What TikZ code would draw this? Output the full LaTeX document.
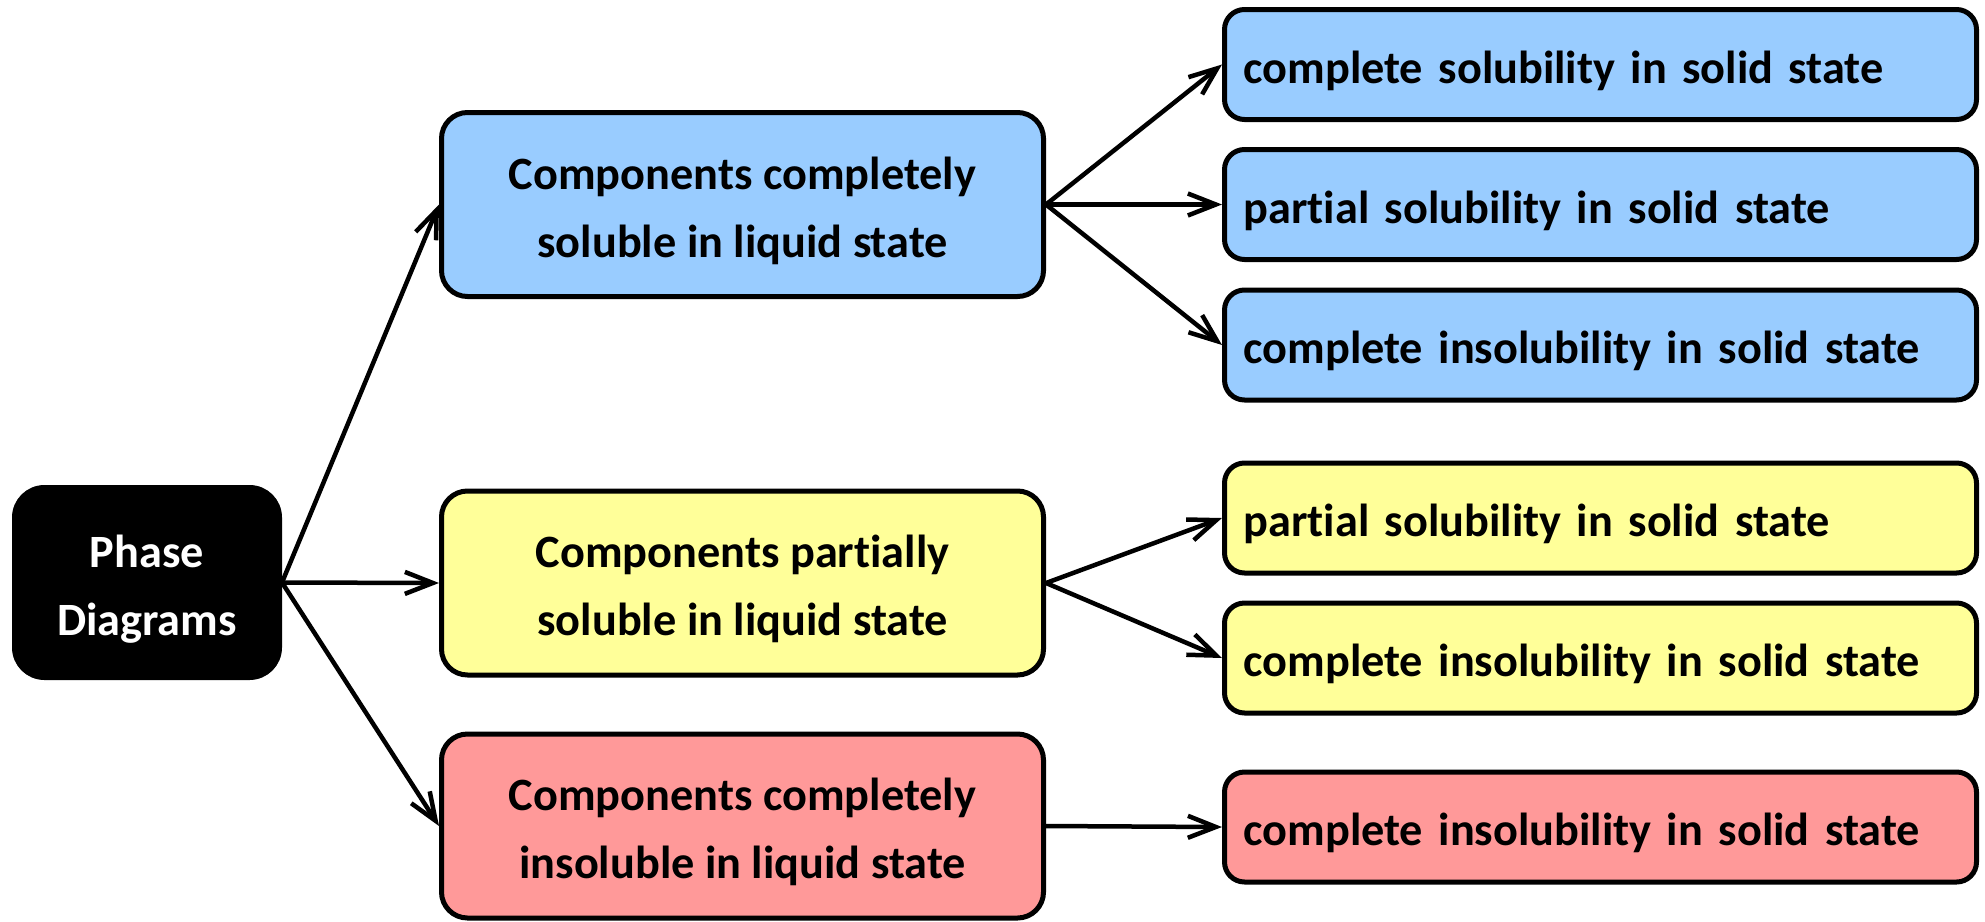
\documentclass[tikz,border=0pt]{standalone}
\usepackage{fontspec}
\setmainfont{Carlito}[Ligatures={NoCommon}]
\usetikzlibrary{arrows.meta}
\definecolor{cblue}{HTML}{99CCFF}
\definecolor{cyellow}{HTML}{FFFF99}
\definecolor{cred}{HTML}{FF9999}
\newcommand\topstrut{\rule{0pt}{45pt}}
\begin{document}
\begin{tikzpicture}[x=1pt,y=-1pt,
  every node/.style={font=\fontsize{46.3}{68}\selectfont\bfseries},
  rootbox/.style={draw=black,fill=black,text=white,line width=5pt,rounded corners=30pt,
    minimum width=265pt,minimum height=190pt,align=center,inner sep=0pt},
  midbox/.style={draw=black,line width=5pt,rounded corners=26pt,
    minimum width=602pt,minimum height=184pt,align=center,inner sep=0pt},
  leafbox/.style={draw=black,line width=5pt,rounded corners=20pt,
    minimum width=752pt,minimum height=110pt,text width=714pt,align=left,inner xsep=19pt,inner ysep=0pt},
  link/.style={line width=4.5pt,-{Straight Barb[length=28pt,width=22pt]}}
]
\useasboundingbox (0,0) rectangle (1985,921);
\node[rootbox] (ph) at (147,582.5) {\topstrut Phase\\Diagrams};
\node[midbox,fill=cblue] (m1) at (742.5,204.5) {\topstrut Components completely\\soluble in liquid state};
\node[midbox,fill=cyellow] (m2) at (742.5,583) {\topstrut Components partially\\soluble in liquid state};
\node[midbox,fill=cred] (m3) at (742.5,826) {\topstrut Components completely\\insoluble in liquid state};
\node[leafbox,fill=cblue] (r1) at (1600.5,64.5) {\topstrut complete solubility in solid state};
\node[leafbox,fill=cblue] (r2) at (1600.5,204.5) {\topstrut partial solubility in solid state};
\node[leafbox,fill=cblue] (r3) at (1600.5,345) {\topstrut complete insolubility in solid state};
\node[leafbox,fill=cyellow] (y1) at (1600.5,518) {\topstrut partial solubility in solid state};
\node[leafbox,fill=cyellow] (y2) at (1600.5,658) {\topstrut complete insolubility in solid state};
\node[leafbox,fill=cred] (x1) at (1600.5,827) {\topstrut complete insolubility in solid state};
\draw[link] (ph.east) -- (m1.west);
\draw[link] (ph.east) -- (m2.west);
\draw[link] (ph.east) -- (m3.west);
\draw[link] (m1.east) -- (r1.west);
\draw[link] (m1.east) -- (r2.west);
\draw[link] (m1.east) -- (r3.west);
\draw[link] (m2.east) -- (y1.west);
\draw[link] (m2.east) -- (y2.west);
\draw[link] (m3.east) -- (x1.west);
\end{tikzpicture}
\end{document}
